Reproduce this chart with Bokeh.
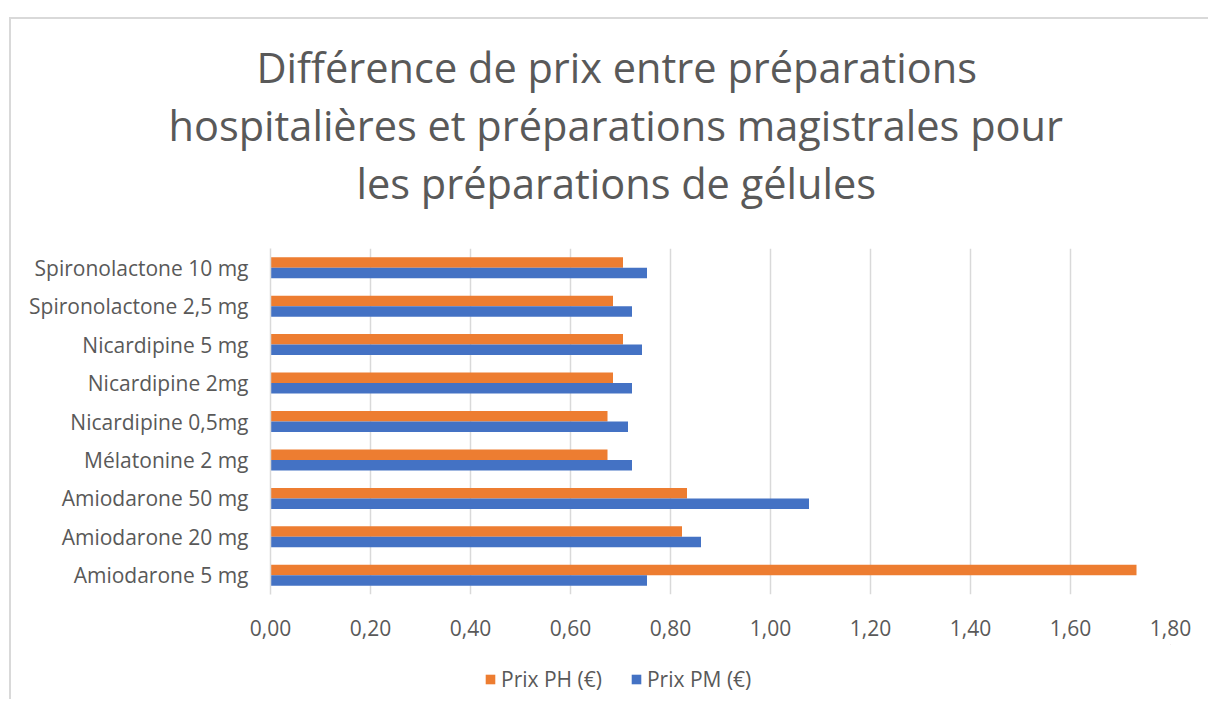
from bokeh.plotting import figure
from bokeh.layouts import column
from bokeh.models import (FactorRange, Range1d, FixedTicker, CustomJSTickFormatter,
                          Title, Legend, LegendItem, ColumnDataSource)
from bokeh.transform import dodge
from bokeh.embed import file_html
from bokeh.resources import INLINE

categories = ["Amiodarone 5 mg", "Amiodarone 20 mg", "Amiodarone 50 mg",
              "Mélatonine 2 mg", "Nicardipine 0,5mg", "Nicardipine 2mg",
              "Nicardipine 5 mg", "Spironolactone 2,5 mg", "Spironolactone 10 mg"]
prix_ph = [1.732, 0.823, 0.833, 0.674, 0.674, 0.685, 0.705, 0.685, 0.705]
prix_pm = [0.753, 0.861, 1.077, 0.723, 0.715, 0.723, 0.743, 0.723, 0.753]
x_ticks = [0.0, 0.2, 0.4, 0.6, 0.8, 1.0, 1.2, 1.4, 1.6, 1.8]
series_names = ["Prix PH (€)", "Prix PM (€)"]
title_lines = ["Différence de prix entre préparations",
               "hospitalières et préparations magistrales pour",
               "les préparations de gélules"]

FONT = "Open Sans"
TXT = "#595959"
ORANGE = "#ED7D31"
BLUE = "#4472C4"
bh = 0.273

src = ColumnDataSource(dict(cat=categories, ph=prix_ph, pm=prix_pm))

p = figure(width=1197, height=625, y_range=FactorRange(factors=categories),
           x_range=Range1d(0, 1.8), output_backend="svg", toolbar_location=None,
           title=None, min_border_left=259, min_border_right=38,
           min_border_top=229, min_border_bottom=50)
p.outline_line_color = None
p.background_fill_color = "white"
p.border_fill_color = "white"

p.hbar(y=dodge("cat", bh / 2, range=p.y_range), right="ph", left=0, height=bh,
       source=src, fill_color=ORANGE, line_color=None)
p.hbar(y=dodge("cat", -bh / 2, range=p.y_range), right="pm", left=0, height=bh,
       source=src, fill_color=BLUE, line_color=None)

p.xaxis.ticker = FixedTicker(ticks=x_ticks)
p.xaxis.formatter = CustomJSTickFormatter(code="return tick.toFixed(2).replace('.', ',');")
p.xaxis.axis_line_color = None
p.xaxis.major_tick_line_color = None
p.xaxis.minor_tick_line_color = None
p.xaxis.major_label_standoff = 19
p.xaxis.major_label_text_font = FONT
p.xaxis.major_label_text_font_size = "21px"
p.xaxis.major_label_text_color = TXT

p.yaxis.axis_line_color = "#d9d9d9"
p.yaxis.axis_line_width = 1.5
p.yaxis.major_tick_line_color = None
p.yaxis.minor_tick_line_color = None
p.yaxis.major_label_standoff = 16
p.yaxis.major_label_text_font = FONT
p.yaxis.major_label_text_font_size = "21px"
p.yaxis.major_label_text_color = TXT

p.xgrid.grid_line_color = "#d9d9d9"
p.xgrid.grid_line_width = 1.5
p.ygrid.grid_line_color = None

# spacer between title block and plot frame
p.add_layout(Title(text=" ", text_font=FONT, text_font_size="26px", standoff=0), "above")
offsets = [-14, -102, 86]
for line, off in reversed(list(zip(title_lines, offsets))):
    p.add_layout(Title(text=line, align="left", offset=off, standoff=0,
                       text_font=FONT, text_font_size="41.5px",
                       text_font_style="normal", text_color=TXT), "above")

# legend strip: its renderers use the series data but have zero size,
# so only their legend swatches are visible
lg = figure(width=1197, height=55, x_range=Range1d(0, 1), y_range=Range1d(0, 1),
            output_backend="svg", toolbar_location=None, title=None,
            x_axis_type=None, y_axis_type=None,
            min_border_left=0, min_border_right=0, min_border_top=0, min_border_bottom=0)
lg.outline_line_color = None
lg.xgrid.visible = False
lg.ygrid.visible = False
g_ph = lg.hbar(y="ph", left="ph", right="ph", height=0, source=src,
               fill_color=ORANGE, line_color=None)
g_pm = lg.hbar(y="pm", left="pm", right="pm", height=0, source=src,
               fill_color=BLUE, line_color=None)
legend = Legend(items=[LegendItem(label=series_names[0], renderers=[g_ph]),
                       LegendItem(label=series_names[1], renderers=[g_pm])],
                location=(214, 6), orientation="horizontal",
                label_text_font=FONT, label_text_font_size="21px",
                label_text_color=TXT, glyph_width=12, glyph_height=12,
                label_standoff=5, spacing=28, padding=0, margin=0,
                border_line_color=None, background_fill_alpha=0)
lg.add_layout(legend, "center")

layout = column(p, lg, spacing=0, margin=(17, 0, 0, 9),
                styles={"border-left": "2px solid #d9d9d9", "border-top": "2px solid #d9d9d9"})

open("out.html", "w").write(file_html(layout, INLINE))
